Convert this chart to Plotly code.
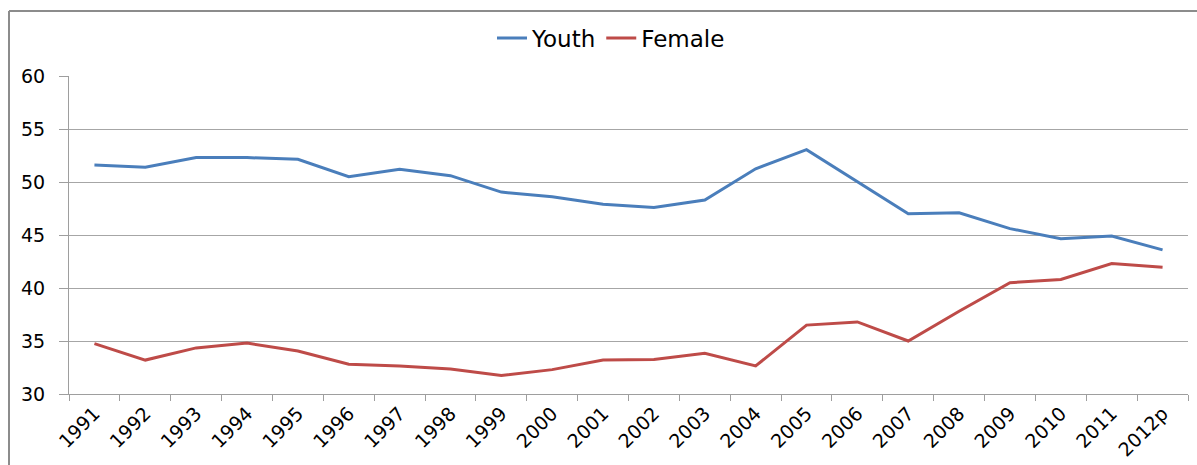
import plotly.graph_objects as go

years = ["1991", "1992", "1993", "1994", "1995", "1996", "1997", "1998", "1999", "2000",
         "2001", "2002", "2003", "2004", "2005", "2006", "2007", "2008", "2009", "2010",
         "2011", "2012p"]
youth = [51.6, 51.4, 52.3, 52.3, 52.15, 50.5, 51.2, 50.6, 49.05, 48.6,
         47.9, 47.6, 48.3, 51.25, 53.05, 50.0, 47.0, 47.1, 45.6, 44.65,
         44.9, 43.6]
female = [34.75, 33.2, 34.35, 34.8, 34.05, 32.8, 32.65, 32.35, 31.75, 32.3,
          33.2, 33.25, 33.85, 32.65, 36.5, 36.8, 35.0, 37.8, 40.5, 40.8,
          42.3, 41.95]

FONT = "DejaVu Sans"

fig = go.Figure()
fig.add_trace(go.Scatter(x=years, y=youth, mode="lines", name="Youth",
                         line=dict(color="#4A7EBB", width=3)))
fig.add_trace(go.Scatter(x=years, y=female, mode="lines", name="Female",
                         line=dict(color="#BE4B48", width=3)))

W, H = 1197, 465
ml, mr, mt, mb = 69, 9, 76, 71
pw, ph = W - ml - mr, H - mt - mb

def px2paper_x(px):
    return (px - ml) / pw

def px2paper_y(py):
    return (H - mb - py) / ph

fig.update_layout(
    width=W, height=H,
    margin=dict(l=ml, r=mr, t=mt, b=mb, autoexpand=False),
    paper_bgcolor="white", plot_bgcolor="white",
    font=dict(family=FONT, color="#000000", size=19),
    showlegend=True,
    legend=dict(orientation="h", x=px2paper_x(611), xanchor="center",
                y=px2paper_y(38), yanchor="middle",
                font=dict(family=FONT, size=23, color="#000000"),
                itemwidth=30, tracegroupgap=0, bgcolor="rgba(0,0,0,0)"),
    xaxis=dict(type="category", range=[-0.5, len(years) - 0.5], automargin=False,
               showgrid=False, showline=True, linecolor="#9E9E9E", linewidth=1,
               ticks="outside", tickson="boundaries", ticklen=6, tickcolor="#9E9E9E",
               tickangle=-45, tickfont=dict(family=FONT, size=19, color="#000000"),
               zeroline=False),
    yaxis=dict(range=[30, 60], dtick=5, tick0=30, automargin=False,
               showgrid=True, gridcolor="#A6A6A6", gridwidth=1,
               showline=True, linecolor="#9E9E9E", linewidth=1,
               ticks="outside", ticklen=9, tickcolor="#9E9E9E",
               ticklabelstandoff=10,
               tickfont=dict(family=FONT, size=19, color="#000000"),
               zeroline=False),
)

# outer chart border (left and top edges visible in reference)
fig.add_shape(type="line", xref="paper", yref="paper",
              x0=px2paper_x(9), x1=px2paper_x(9), y0=px2paper_y(11), y1=px2paper_y(470),
              line=dict(color="#8C8C8C", width=2))
fig.add_shape(type="line", xref="paper", yref="paper",
              x0=px2paper_x(9), x1=px2paper_x(1200), y0=px2paper_y(11), y1=px2paper_y(11),
              line=dict(color="#8C8C8C", width=2))

fig.write_html("out.html",
               config={"displayModeBar": False},
               post_script="document.body.style.margin='0';document.body.style.overflow='hidden';")
